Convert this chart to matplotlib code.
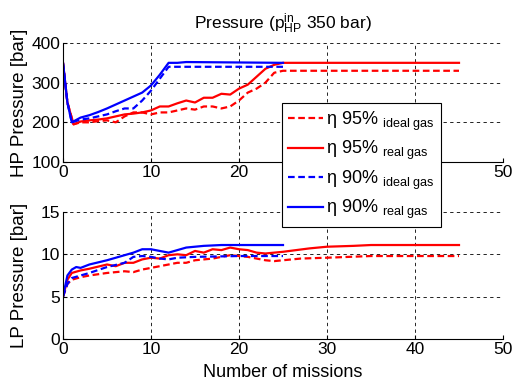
import matplotlib
matplotlib.use("Agg")
import matplotlib.pyplot as plt
from matplotlib.lines import Line2D

plt.rcParams['font.family'] = ['Liberation Sans', 'DejaVu Sans']
plt.rcParams['mathtext.fontset'] = 'custom'
plt.rcParams['mathtext.rm'] = 'Liberation Sans'
plt.rcParams['mathtext.it'] = 'Liberation Sans:italic'

# ---- HP pressure data (bar) ----
hp_r95_ideal_x = [0, 0.5, 1.2, 2, 3, 4, 5, 6, 7, 8, 9, 10, 11, 12, 13, 14, 15, 16, 17, 18, 19, 20, 21, 22, 23, 24, 25, 30, 45]
hp_r95_ideal_y = [350, 250, 195, 200, 200, 203, 205, 200, 215, 225, 225, 220, 225, 225, 230, 235, 232, 240, 240, 235, 240, 255, 275, 285, 300, 325, 330, 330, 330]
hp_r95_real_x = [0, 0.5, 1.2, 2, 3, 4, 5, 6, 7, 8, 9, 10, 11, 12, 13, 14, 15, 16, 17, 18, 19, 20, 21, 22, 23, 24, 25, 30, 45]
hp_r95_real_y = [350, 250, 195, 202, 205, 207, 210, 215, 220, 222, 225, 230, 240, 240, 248, 255, 250, 262, 262, 272, 270, 285, 295, 315, 335, 345, 350, 350, 350]
hp_b90_ideal_x = [0, 0.5, 1, 2, 3, 4, 5, 6, 7, 8, 9, 10, 11, 12, 13, 25]
hp_b90_ideal_y = [350, 250, 200, 207, 210, 215, 220, 228, 235, 235, 255, 280, 310, 340, 340, 340]
hp_b90_real_x = [0, 0.5, 1, 2, 3, 4, 5, 6, 7, 8, 9, 10, 11, 12, 13, 14, 25]
hp_b90_real_y = [350, 250, 200, 212, 218, 226, 235, 245, 255, 265, 275, 293, 320, 350, 350, 352, 350]

# ---- LP pressure data (bar) ----
lp_r95_ideal_x = [0, 0.5, 1, 2, 3, 5, 7, 8, 9, 10, 11, 12, 13, 14, 15, 16, 17, 18, 19, 20, 21, 22, 23, 24, 25, 27, 30, 35, 45]
lp_r95_ideal_y = [5, 6.5, 7.0, 7.3, 7.5, 7.8, 8.0, 7.9, 8.2, 8.4, 8.6, 8.8, 9.0, 9.0, 9.3, 9.4, 9.5, 9.7, 9.9, 9.8, 9.7, 9.5, 9.3, 9.2, 9.3, 9.5, 9.6, 9.8, 9.8]
lp_r95_real_x = [0, 0.5, 1, 2, 3, 5, 6, 7, 8, 9, 10, 11, 12, 13, 14, 15, 16, 17, 18, 19, 20, 21, 22, 23, 24, 25, 28, 30, 33, 35, 45]
lp_r95_real_y = [5, 7.0, 7.8, 8.1, 8.3, 8.8, 8.6, 9.0, 9.0, 9.4, 9.6, 9.5, 9.9, 10.0, 9.9, 10.4, 10.2, 10.6, 10.5, 10.8, 10.6, 10.5, 10.2, 10.1, 10.2, 10.3, 10.7, 10.9, 11.0, 11.1, 11.1]
lp_b90_ideal_x = [0, 0.5, 1, 2, 3, 5, 7, 8, 9, 10, 11, 12, 13, 15, 20, 25]
lp_b90_ideal_y = [5, 6.5, 7.2, 7.5, 7.8, 8.5, 9.0, 9.7, 9.8, 9.7, 9.5, 9.4, 9.6, 9.7, 9.8, 9.8]
lp_b90_real_x = [0, 0.5, 1, 1.5, 2, 3, 5, 7, 8, 9, 10, 11, 12, 13, 14, 16, 18, 25]
lp_b90_real_y = [5, 7.5, 8.2, 8.5, 8.4, 8.8, 9.3, 9.9, 10.2, 10.6, 10.6, 10.4, 10.2, 10.5, 10.8, 11.0, 11.1, 11.1]

x_ticks = [0, 10, 20, 30, 40, 50]
top_x_ticklabels = ['0', '10', '20', '', '', '50']  # 30 and 40 hidden behind the legend
labels = ['η 95% $_{\\rm ideal\\ gas}$', 'η 95% $_{\\rm real\\ gas}$',
          'η 90% $_{\\rm ideal\\ gas}$', 'η 90% $_{\\rm real\\ gas}$']

RED = '#ff0000'
BLUE = '#0000ff'
LW = 1.6
FS = 12.5

fig = plt.figure(figsize=(5.13, 3.81), dpi=100)
ax1 = fig.add_axes([63/513, 1-162/381, 440/513, 119/381])
ax2 = fig.add_axes([63/513, 1-339/381, 440/513, 127/381])

dash = (0, (3.0, 1.6))

def style(ax):
    ax.set_xlim(0, 50)
    ax.set_xticks(x_ticks)
    for s in ['top', 'right']:
        ax.spines[s].set_visible(False)
    ax.grid(True, color='black', linestyle=(0, (4, 4)), linewidth=0.6)
    ax.tick_params(direction='in', labelsize=FS, length=3, pad=2)
    ax.set_axisbelow(True)

ax1.plot(hp_r95_ideal_x, hp_r95_ideal_y, color=RED, ls=dash, lw=LW)
ax1.plot(hp_r95_real_x, hp_r95_real_y, color=RED, ls='-', lw=LW)
ax1.plot(hp_b90_ideal_x, hp_b90_ideal_y, color=BLUE, ls=dash, lw=LW)
ax1.plot(hp_b90_real_x, hp_b90_real_y, color=BLUE, ls='-', lw=LW)
style(ax1)
ax1.set_xticklabels(top_x_ticklabels)
ax1.set_ylim(100, 400)
ax1.set_yticks([100, 200, 300, 400])
ax1.set_ylabel('HP Pressure [bar]', fontsize=13.5, labelpad=2)
ax1.set_title(r'Pressure (p$_{\rm HP}^{\rm in}$ 350 bar)', fontsize=FS, pad=10)

ax2.plot(lp_r95_ideal_x, lp_r95_ideal_y, color=RED, ls=dash, lw=LW)
ax2.plot(lp_r95_real_x, lp_r95_real_y, color=RED, ls='-', lw=LW)
ax2.plot(lp_b90_ideal_x, lp_b90_ideal_y, color=BLUE, ls=dash, lw=LW)
ax2.plot(lp_b90_real_x, lp_b90_real_y, color=BLUE, ls='-', lw=LW)
style(ax2)
ax2.set_ylim(0, 15)
ax2.set_yticks([0, 5, 10, 15])
ax2.set_ylabel('LP Pressure [bar]', fontsize=13.5, labelpad=9)
ax2.set_xlabel('Number of missions', fontsize=13, labelpad=5)

handles = [Line2D([], [], color=RED, ls=dash, lw=LW),
           Line2D([], [], color=RED, ls='-', lw=LW),
           Line2D([], [], color=BLUE, ls=dash, lw=LW),
           Line2D([], [], color=BLUE, ls='-', lw=LW)]
leg = fig.legend(handles, labels, loc='upper left',
                 bbox_to_anchor=(282/513, 1-103/381), fontsize=13,
                 frameon=True, fancybox=False, framealpha=1, edgecolor='black',
                 handlelength=1.9, handletextpad=0.2, labelspacing=0.35,
                 borderpad=0.35, borderaxespad=0)
leg.get_frame().set_linewidth(0.8)

fig.savefig('out.png', dpi=100)
